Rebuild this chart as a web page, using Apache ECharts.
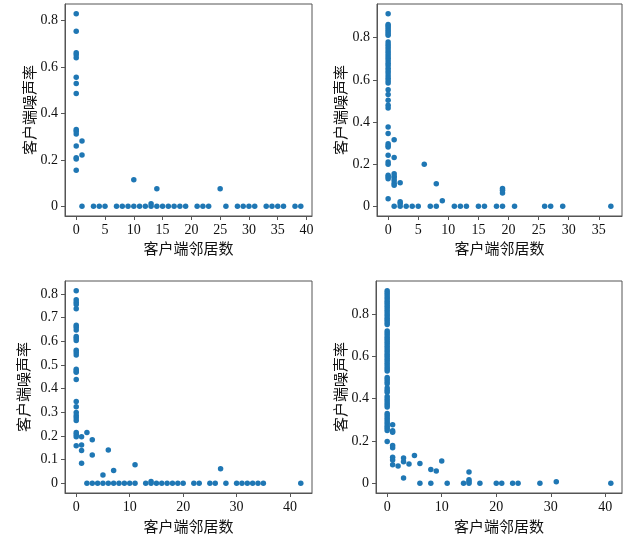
<!DOCTYPE html>
<html>
<head>
<meta charset="utf-8">
<script src="https://cdn.jsdelivr.net/npm/echarts@6/dist/echarts.min.js"></script>
<style>html,body{margin:0;padding:0;background:#fff;}#c{width:631px;height:538px;}</style>
</head>
<body>
<div id="c"></div>
<script>
// ---- data ----
const xTitle = '客户端邻居数';
const yTitle = '客户端噪声率';

const p1X = [0,0,0,0,0,0,0,0,0,0,0,0,0,0,0, 1,1,1, 3,4,5,7,8,9,10,11,12,13,14,15,16,17,18,19,21,22,23,26,28,29,30,31,33,34,35,36,38,39, 10,13,14,25];
const p1Y = [0.829,0.753,0.661,0.652,0.639,0.555,0.528,0.485,0.331,0.323,0.311,0.26,0.209,0.204,0.155, 0.281,0.221,0, 0,0,0,0,0,0,0,0,0,0,0,0,0,0,0,0,0,0,0,0,0,0,0,0,0,0,0,0,0,0, 0.115,0.011,0.076,0.076];

const p2X = [0,0,0,0,0,0,0,0,0,0,0,0,0,0,0,0,0,0,0,0,0,0,0,0,0,0,0,0,0,0,0,0,0,0,0,0,0,0,0,0,0,0,0,
  1,1,1,1,1,1,1,1,1, 2,2,2,2, 3,4,5,6,7,8,8,9,11,12,13,15,16,18,19,19,19,19,21,26,27,29,37];
const p2Y = [0.914,0.863,0.855,0.847,0.838,0.829,0.820,0.811,0.779,0.768,0.757,0.746,0.735,0.724,0.713,0.702,0.690,0.679,0.668,0.655,0.643,0.632,0.620,0.607,0.596,0.585,0.553,0.530,0.503,0.479,0.466,0.376,0.345,0.297,0.288,0.281,0.242,0.210,0.200,0.147,0.139,0.131,0.036,
  0.316,0.232,0.155,0.143,0.134,0.123,0.110,0.100,0, 0.112,0.022,0.013,0, 0,0,0,0.2,0,0.107,0,0.027,0,0,0,0,0,0,0.085,0.076,0.063,0,0,0,0,0,0];

const p3X = [0,0,0,0,0,0,0,0,0,0,0,0,0,0,0,0,0,0,0,0,0,0,0,0,0,0,0,0,
  1,1,1,1, 2,2,3,3,3,4,5,5,6,6,7,7,8,9,10,11,11,13,14,14,15,16,17,18,19,20,22,23,25,26,27,28,30,31,32,33,34,35,42];
const p3Y = [0.814,0.775,0.765,0.755,0.737,0.668,0.659,0.648,0.62,0.613,0.603,0.562,0.553,0.542,0.482,0.475,0.469,0.439,0.346,0.324,0.299,0.287,0.277,0.265,0.215,0.206,0.197,0.159,
  0.197,0.162,0.139,0.085, 0.215,0,0.184,0.12,0,0,0.035,0,0.141,0,0.054,0,0,0,0,0.079,0,0,0.008,0,0,0,0,0,0,0,0,0,0,0,0.062,0,0,0,0,0,0,0,0];

const p4X = [0,0,0,0,0,0,0,0,0,0,0,0,0,0,0,0,0,0,0,0,0,0,0,0,0,0,0,0,0,0,0,0,0,0,0,0,0,0,0,0,0,0,0,0,0,0,0,0,0,0,0,0,0,0,0,0,0,0,0,0,
  1,1,1,1,1,1,1,1, 2,3,3,3,4,5,6,6,8,8,9,10,11,14,15,15,15,15,17,20,21,23,24,28,31,41];
const p4Y = [0.91,0.90,0.89,0.88,0.87,0.86,0.85,0.84,0.83,0.82,0.81,0.80,0.79,0.78,0.77,0.76,0.75,0.72,0.71,0.70,0.69,0.68,0.67,0.66,0.65,0.64,0.63,0.62,0.61,0.60,0.59,0.58,0.57,0.56,0.55,0.54,0.53,0.50,0.49,0.48,0.47,0.45,0.44,0.43,0.41,0.40,0.39,0.38,0.37,0.36,0.33,0.32,0.31,0.30,0.29,0.28,0.27,0.26,0.25,0.198,
  0.277,0.249,0.241,0.179,0.168,0.123,0.110,0.088, 0.082,0.12,0.102,0.025,0.091,0.132,0.094,0,0.065,0,0.058,0.106,0,0,0.054,0.017,0.009,0,0,0,0,0,0,0,0.008,0];

const p1XTicks = [0,5,10,15,20,25,30,35,40];
const p2XTicks = [0,5,10,15,20,25,30,35];
const p3XTicks = [0,10,20,30,40];
const p4XTicks = [0,10,20,30,40];
const p1YTicks = [0,0.2,0.4,0.6,0.8];
const p2YTicks = [0,0.2,0.4,0.6,0.8];
const p3YTicks = [0,0.1,0.2,0.3,0.4,0.5,0.6,0.7,0.8];
const p4YTicks = [0,0.2,0.4,0.6,0.8];

// ---- chart ----
const panels = [
  {x:p1X, y:p1Y, xt:p1XTicks, yt:p1YTicks, grid:{left:65, top:4, width:247, height:212}, yGap:28, xGap:25},
  {x:p2X, y:p2Y, xt:p2XTicks, yt:p2YTicks, grid:{left:377, top:4, width:245, height:212}, yGap:29, xGap:25},
  {x:p3X, y:p3Y, xt:p3XTicks, yt:p3YTicks, grid:{left:65, top:281, width:247, height:212}, yGap:34, xGap:26},
  {x:p4X, y:p4Y, xt:p4XTicks, yt:p4YTicks, grid:{left:376, top:281, width:246, height:212}, yGap:27, xGap:26}
];
const numFont = 'Liberation Serif';
const cjkFont = '"Noto Sans CJK SC"';
const frame = '#555';
const fmt = v => (v === 0 ? '0' : (Math.abs(v) >= 1 ? String(v) : v.toFixed(1)));

function lim(arr){
  const lo = Math.min(...arr), hi = Math.max(...arr), m = (hi - lo) * 0.05;
  return [lo - m, hi + m];
}

const grid = [], xAxis = [], yAxis = [], series = [];
panels.forEach((p, i) => {
  grid.push(Object.assign({show:true, borderColor:frame, borderWidth:1, containLabel:false}, p.grid));
  const xl = lim(p.x), yl = lim(p.y);
  xAxis.push({
    type:'value', gridIndex:i, min:xl[0], max:xl[1],
    name:xTitle, nameLocation:'middle', nameGap:p.xGap,
    nameTextStyle:{fontFamily:cjkFont, fontSize:15, color:'#111'},
    axisLine:{show:true, onZero:false, lineStyle:{color:frame}},
    axisTick:{show:true, length:4, lineStyle:{color:frame}, customValues:p.xt},
    axisLabel:{fontFamily:numFont, fontSize:14, color:'#111', margin:7, customValues:p.xt, formatter:fmt},
    splitLine:{show:false}
  });
  yAxis.push({
    type:'value', gridIndex:i, min:yl[0], max:yl[1],
    name:yTitle, nameLocation:'middle', nameGap:p.yGap, nameRotate:90,
    nameTextStyle:{fontFamily:cjkFont, fontSize:15, color:'#111'},
    axisLine:{show:true, onZero:false, lineStyle:{color:frame}},
    axisTick:{show:true, length:4, lineStyle:{color:frame}, customValues:p.yt},
    axisLabel:{fontFamily:numFont, fontSize:14, color:'#111', margin:7, customValues:p.yt, formatter:fmt},
    splitLine:{show:false}
  });
  series.push({
    type:'scatter', xAxisIndex:i, yAxisIndex:i, symbolSize:5.5,
    itemStyle:{color:'#1f77b4', opacity:1},
    data:p.x.map((xv, k) => [xv, p.y[k]]),
    animation:false
  });
});

const chart = echarts.init(document.getElementById('c'), null, {renderer:'canvas'});
chart.setOption({animation:false, grid, xAxis, yAxis, series});
</script>
</body>
</html>
